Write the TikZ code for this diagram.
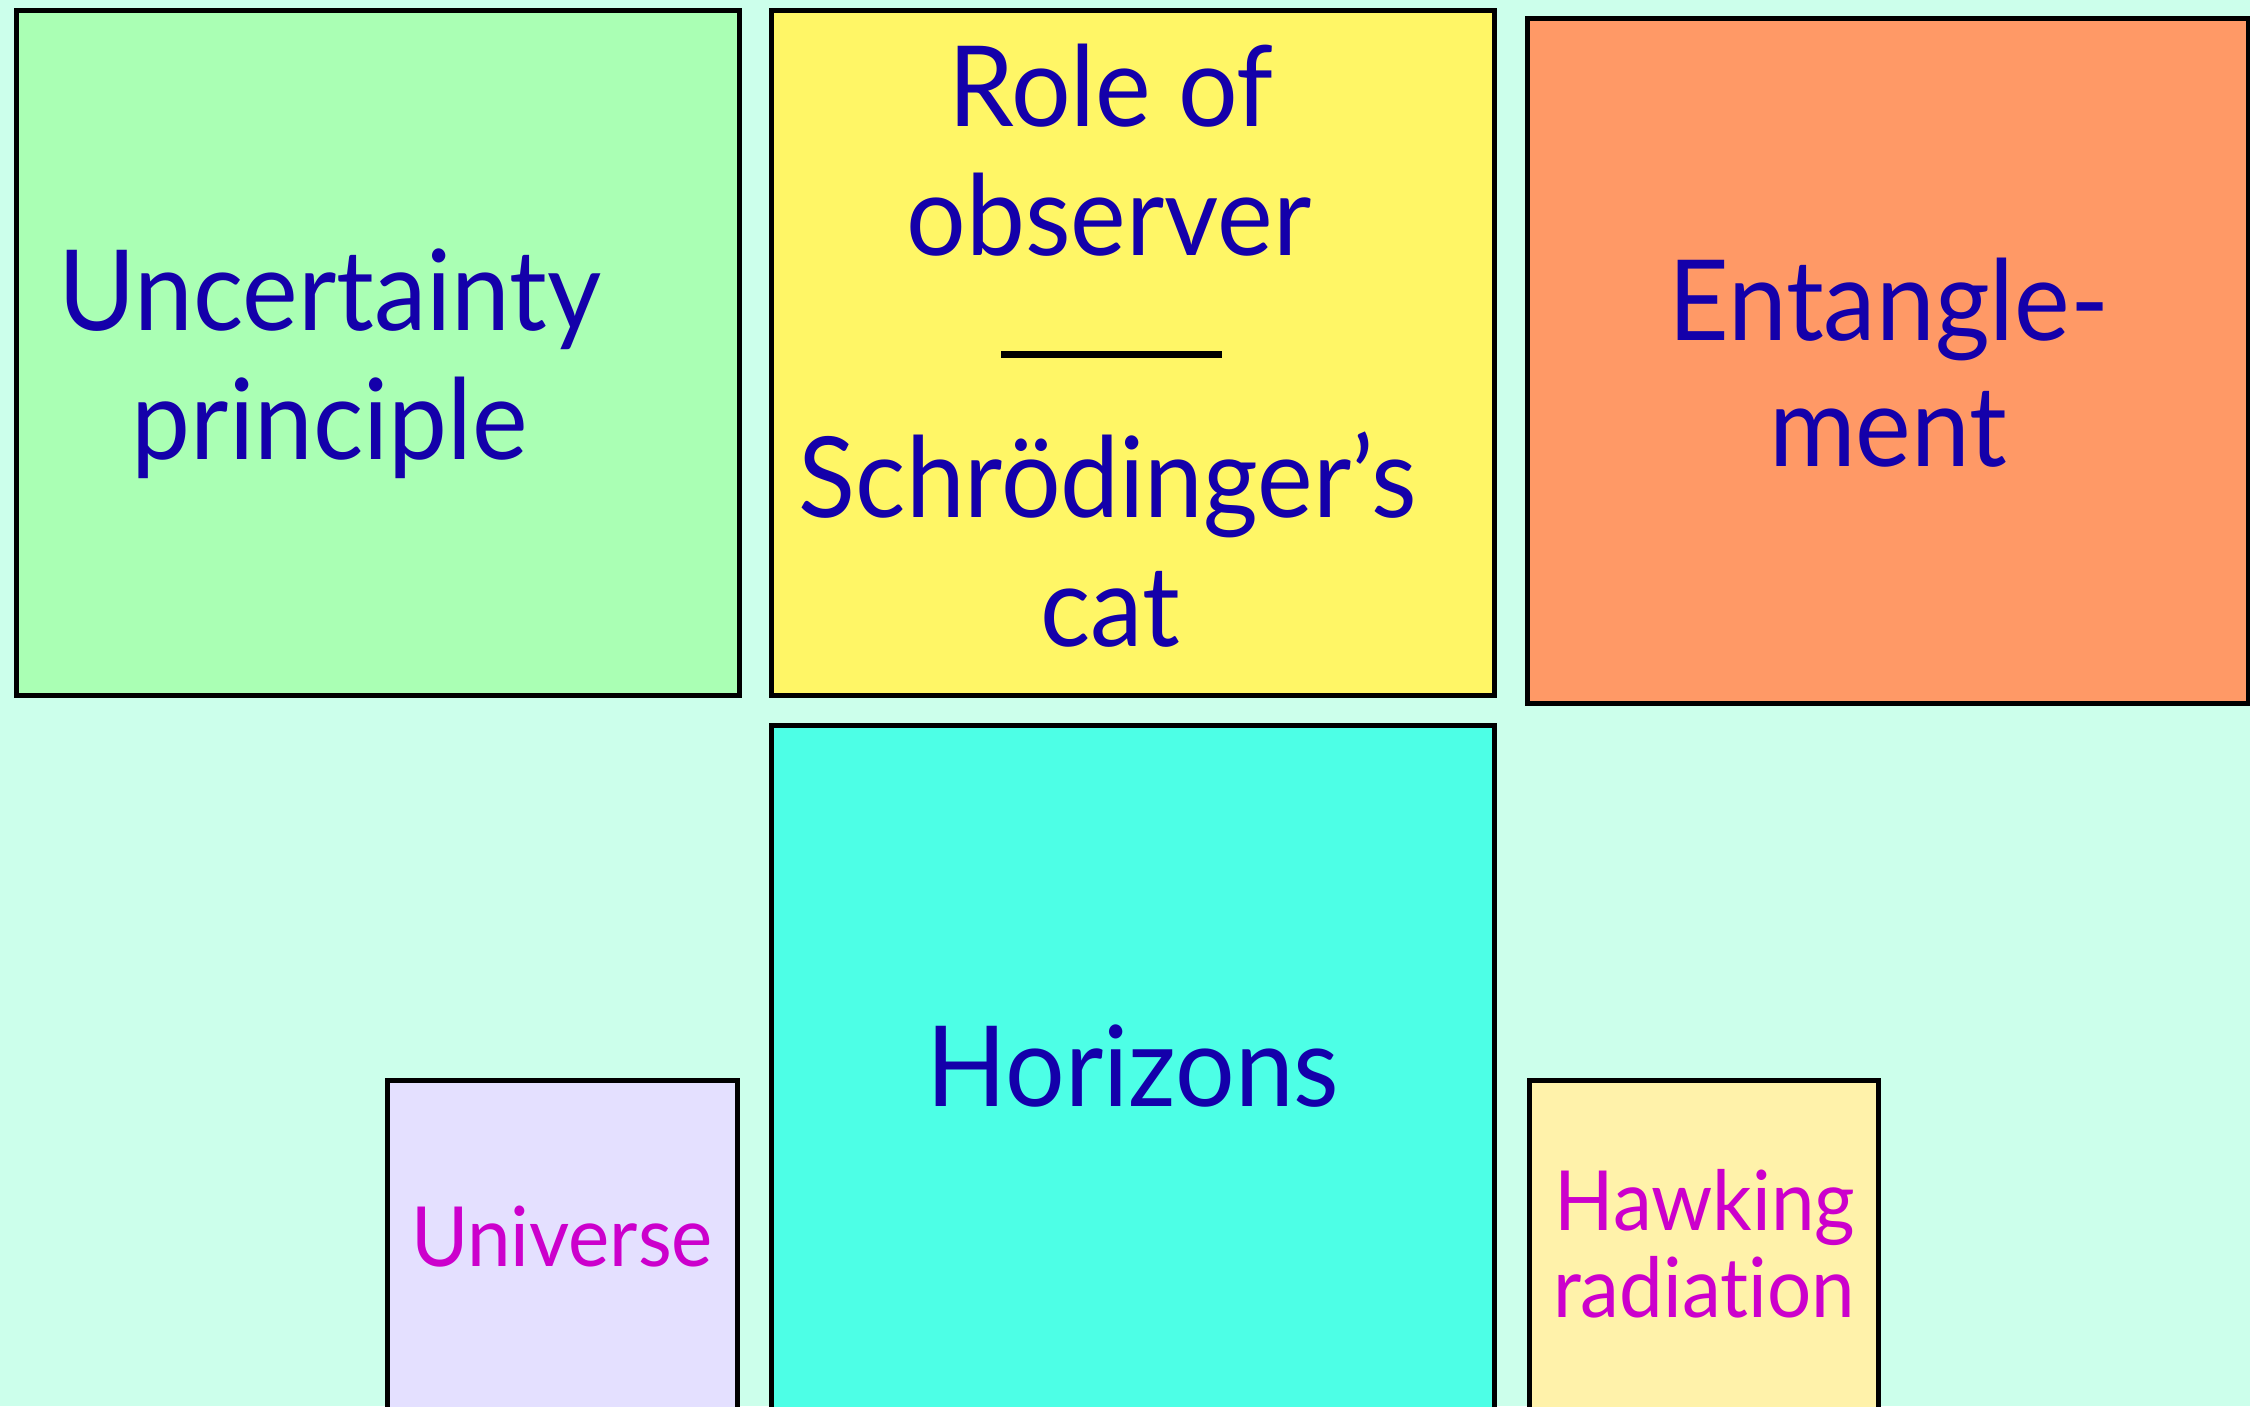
\documentclass[tikz,border=0pt]{standalone}
\usepackage{fontspec}
\setmainfont{Lato}[FakeStretch=0.94, Ligatures={NoCommon}]
\definecolor{bgmint}{RGB}{204,255,235}
\definecolor{boxgreen}{RGB}{170,255,180}
\definecolor{boxyellow}{RGB}{255,246,102}
\definecolor{boxorange}{RGB}{255,153,102}
\definecolor{boxcyan}{RGB}{77,255,230}
\definecolor{boxlav}{RGB}{228,224,255}
\definecolor{boxcream}{RGB}{255,242,170}
\definecolor{txtblue}{RGB}{20,0,170}
\definecolor{txtmag}{RGB}{204,0,204}
\tikzset{
  panel/.style={draw=black, line width=5pt},
  bigtxt/.style={anchor=base, inner sep=0pt, text=txtblue, font=\fontsize{112}{129}\selectfont},
  smalltxt/.style={anchor=base, inner sep=0pt, text=txtmag, font=\fontsize{83}{96}\selectfont},
}
\begin{document}
\begin{tikzpicture}[x=1pt,y=-1pt]
\useasboundingbox (0,0) rectangle (2250,1406);
\clip (0,0) rectangle (2250,1406);
\fill[bgmint] (0,0) rectangle (2250,1406);
% panels
\draw[panel, fill=boxgreen] (16,10.5) rectangle (739,695);
\draw[panel, fill=boxyellow] (771,10.5) rectangle (1494,695);
\draw[panel, fill=boxorange] (1527,18.5) rectangle (2248,703.5);
\draw[panel, fill=boxcyan] (771,725) rectangle (1494,1420);
\draw[panel, fill=boxlav] (387,1080) rectangle (737,1420);
\draw[panel, fill=boxcream] (1529,1080) rectangle (1878,1420);
% texts
\node[bigtxt] (unc1) at (330,330) {Uncertainty};
\node[bigtxt] (unc2) at (330,459) {principle};
\node[bigtxt] (obs1) at (1111,126) {Role of};
\node[bigtxt] (obs2) at (1109,255) {observer};
\coordinate (barL) at (1001,354.5);
\coordinate (barR) at (1222,354.5);
\draw[line width=7.5pt] (barL) -- (barR);
\node[bigtxt] (cat1) at (1108,517) {Schrödinger’s};
\node[bigtxt] (cat2) at (1110,646) {cat};
\node[bigtxt] (ent1) at (1889,340) {Entangle-};
\node[bigtxt] (ent2) at (1888,466) {ment};
\node[bigtxt] (hor) at (1133,1106) {Horizons};
\node[smalltxt] (uni) at (562,1266) {Universe};
\node[smalltxt] (haw1) at (1705,1230) {Hawking};
\node[smalltxt] (haw2) at (1704,1317) {radiation};
\end{tikzpicture}
\end{document}
